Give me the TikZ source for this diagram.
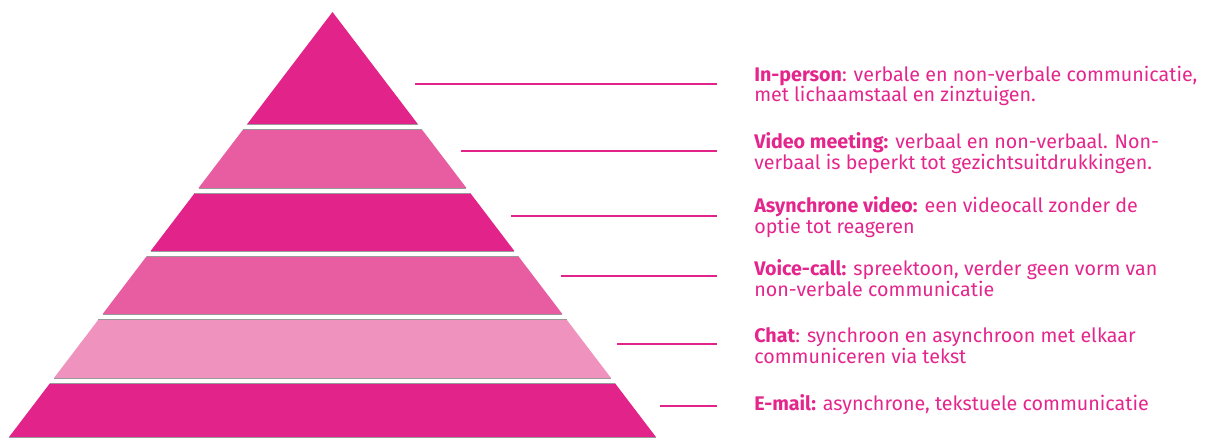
\documentclass[tikz,border=0pt]{standalone}
\usepackage{fontspec}
\setmainfont{Fira Sans}
\usepackage{xcolor}
\definecolor{roze}{RGB}{226,35,137}
\definecolor{rozemid}{RGB}{232,92,161}
\definecolor{rozelicht}{RGB}{240,146,190}
\definecolor{tekstroze}{RGB}{228,38,140}
\newcommand{\laag}[3] {
    \fill[#1] ({332.5-0.761*(#2-12)},#2) -- ({332.5+0.761*(#2-12)},#2)
        -- ({332.5+0.761*(#3-12)},#3) -- ({332.5-0.761*(#3-12)},#3) -- cycle;
    \draw[black!40,line width=.5pt]
        ({332.5-0.761*(#2-12)},#2) -- ({332.5+0.761*(#2-12)},#2);
    \draw[black!40,line width=.5pt]
        ({332.5-0.761*(#3-12)},#3) -- ({332.5+0.761*(#3-12)},#3);
}

\begin{document}
\begin{tikzpicture}[x=0.025cm,y=-0.025cm]
    \tikzset{
        uitleg/.style={anchor=west,inner sep=0,align=left,text=tekstroze,
            font=\fontsize{14}{14.8}\selectfont},
        lijn/.style={draw=roze,line width=.8pt,shorten >=0.925cm},
    }
    \useasboundingbox (0,0) rectangle (1222,437);
    \laag{roze}{12}{124.5}
    \laag{rozemid}{129.5}{188}
    \laag{roze}{193}{251}
    \laag{rozemid}{256}{314}
    \laag{rozelicht}{319.5}{378}
    \laag{roze}{383}{437}

    \coordinate (p1) at (415,84);
    \coordinate (p2) at (461,151);
    \coordinate (p3) at (511,216);
    \coordinate (p4) at (561,276);
    \coordinate (p5) at (617,344);
    \coordinate (p6) at (660,406);

    \node[uitleg] (t1) at (754,86) {\textbf{In-person}: verbale en non-verbale communicatie,\\met lichaamstaal en zinztuigen.};
    \node[uitleg] (t2) at (754,153) {\textbf{Video meeting:} verbaal en non-verbaal. Non-\\verbaal is beperkt tot gezichtsuitdrukkingen.};
    \node[uitleg] (t3) at (754,217) {\textbf{Asynchrone video:} een videocall zonder de\\optie tot reageren};
    \node[uitleg] (t4) at (754,278) {\textbf{Voice-call:} spreektoon, verder geen vorm van\\non-verbale communicatie};
    \node[uitleg] (t5) at (754,346) {\textbf{Chat}: synchroon en asynchroon met elkaar\\communiceren via tekst};
    \node[uitleg] (t6) at (754,405) {\textbf{E-mail:} asynchrone, tekstuele communicatie};

    \foreach \i in {1,...,6}
        \draw[lijn] (p\i) -- (p\i -| t\i.west);
\end{tikzpicture}
\end{document}
